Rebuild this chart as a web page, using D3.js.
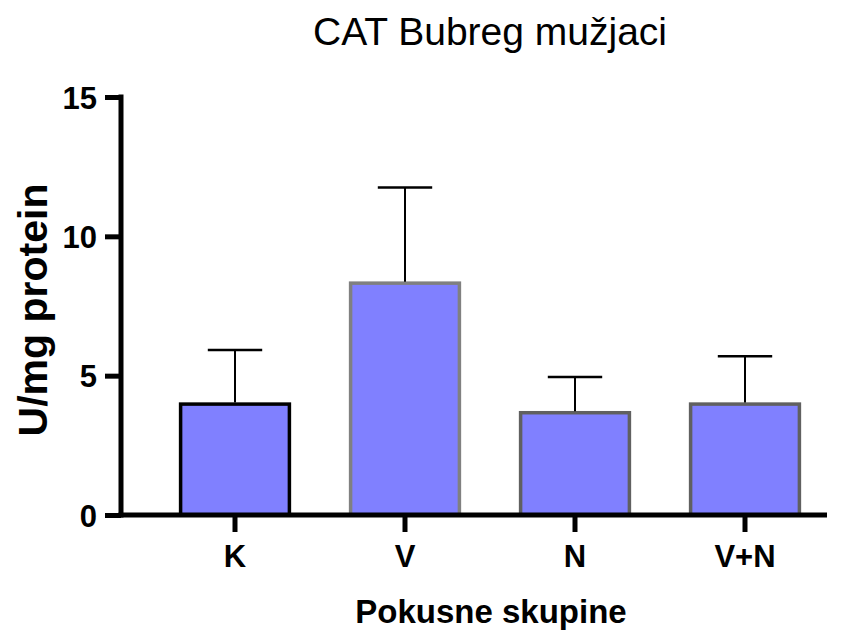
<!DOCTYPE html>
<html><head><meta charset="utf-8">
<script src="https://cdn.jsdelivr.net/npm/d3@7"></script>
<style>body{margin:0;background:#fff;font-family:"Liberation Sans",Arial,sans-serif}</style>
</head><body>
<svg id="c" width="851" height="637"></svg>
<script>
const categories = ["K", "V", "N", "V+N"];
const means = [3.98, 8.32, 3.67, 3.98];
const errUpper = [5.92, 11.75, 4.95, 5.70];
const yTicks = [0, 5, 10, 15];
const strokeColors = ["#000000", "#808080", "#606060", "#606060"];

const svg = d3.select("#c");
const y = d3.scaleLinear().domain([0, 15]).range([515, 97]);
const x = d3.scaleBand().domain(categories).range([150, 830]).paddingInner(0.36).paddingOuter(0.18);

// bars
svg.selectAll("rect.bar").data(categories).join("rect")
  .attr("x", d => x(d)).attr("width", x.bandwidth())
  .attr("y", (d,i) => y(means[i])).attr("height", (d,i) => y(0) - y(means[i]))
  .attr("fill", "#8080FF").attr("stroke", (d,i) => strokeColors[i]).attr("stroke-width", 3.5);

// error bars
const cap = x.bandwidth() / 2;
categories.forEach((d,i) => {
  const cx = x(d) + x.bandwidth()/2;
  svg.append("line").attr("x1", cx).attr("x2", cx).attr("y1", y(means[i]) - 1.5).attr("y2", y(errUpper[i]))
    .attr("stroke", "#000").attr("stroke-width", 2);
  svg.append("line").attr("x1", cx - cap/2).attr("x2", cx + cap/2).attr("y1", y(errUpper[i])).attr("y2", y(errUpper[i]))
    .attr("stroke", "#000").attr("stroke-width", 2.5);
});

// y axis
const yAxis = svg.append("g").attr("transform", "translate(121,0)")
  .call(d3.axisLeft(y).tickValues(yTicks).tickSize(16).tickPadding(8));
yAxis.select(".domain").remove();
yAxis.selectAll(".tick line").attr("stroke", "#000").attr("stroke-width", 5);
yAxis.selectAll(".tick text").attr("font-family", "Liberation Sans, Arial").attr("font-weight", "bold")
  .attr("font-size", 31).attr("fill", "#000").attr("dy", "0.36em");
svg.append("line").attr("x1", 121).attr("x2", 121).attr("y1", y(15) - 2.5).attr("y2", y(0) + 2.5)
  .attr("stroke", "#000").attr("stroke-width", 5);

// x axis
const xAxis = svg.append("g").attr("transform", "translate(0,515)")
  .call(d3.axisBottom(x).tickSize(17).tickPadding(13));
xAxis.select(".domain").remove();
xAxis.selectAll(".tick line").attr("stroke", "#000").attr("stroke-width", 5);
xAxis.selectAll(".tick text").attr("font-family", "Liberation Sans, Arial").attr("font-weight", "bold")
  .attr("font-size", 31).attr("fill", "#000");
svg.append("line").attr("x1", 118.5).attr("x2", 827).attr("y1", 515).attr("y2", 515)
  .attr("stroke", "#000").attr("stroke-width", 5);

// titles
svg.append("text").attr("x", 490).attr("y", 45).attr("text-anchor", "middle")
  .attr("font-size", 39).attr("fill", "#000").text("CAT Bubreg mužjaci");
svg.append("text").attr("x", 491).attr("y", 623).attr("text-anchor", "middle")
  .attr("font-size", 33).attr("font-weight", "bold").attr("fill", "#000").text("Pokusne skupine");
svg.append("text").attr("transform", "translate(47,310) rotate(-90)").attr("text-anchor", "middle")
  .attr("font-size", 41).attr("font-weight", "bold").attr("fill", "#000").text("U/mg protein");
</script>
</body></html>
